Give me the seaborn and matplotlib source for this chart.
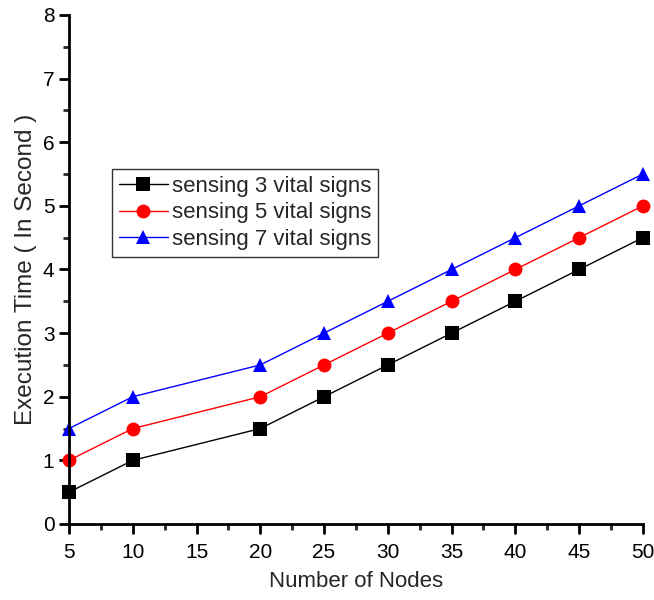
import matplotlib
matplotlib.use("Agg")
import matplotlib.pyplot as plt
import seaborn as sns
import pandas as pd
from matplotlib.ticker import MultipleLocator

nodes = [5, 10, 20, 25, 30, 35, 40, 45, 50]
s3 = [0.5, 1.0, 1.5, 2.0, 2.5, 3.0, 3.5, 4.0, 4.5]
s5 = [1.0, 1.5, 2.0, 2.5, 3.0, 3.5, 4.0, 4.5, 5.0]
s7 = [1.5, 2.0, 2.5, 3.0, 3.5, 4.0, 4.5, 5.0, 5.5]
labels = ["sensing 3 vital signs", "sensing 5 vital signs", "sensing 7 vital signs"]

df = pd.concat([
    pd.DataFrame({"nodes": nodes, "time": s, "series": lab})
    for s, lab in zip([s3, s5, s7], labels)
])

sns.set_style("ticks")
plt.rcParams["font.family"] = ["Liberation Sans", "DejaVu Sans"]

fig = plt.figure(figsize=(6.54, 6.0), dpi=100)
ax = fig.add_axes([0.1055, 0.1267, 0.8775, 0.8483])

colors = {labels[0]: "black", labels[1]: "red", labels[2]: "blue"}
markers = {labels[0]: "s", labels[1]: "o", labels[2]: "^"}
sns.lineplot(data=df, x="nodes", y="time", hue="series", style="series",
             palette=colors, markers=markers, dashes=False, markersize=10,
             linewidth=1.0, markeredgewidth=0, ax=ax, clip_on=False)

ax.set_xlim(5, 50)
ax.set_ylim(0, 8)
ax.xaxis.set_major_locator(MultipleLocator(5))
ax.xaxis.set_minor_locator(MultipleLocator(2.5))
ax.yaxis.set_major_locator(MultipleLocator(1))
ax.yaxis.set_minor_locator(MultipleLocator(0.5))
for s in ["top", "right"]:
    ax.spines[s].set_visible(False)
for s in ["left", "bottom"]:
    ax.spines[s].set_linewidth(2)
    ax.spines[s].set_color("black")
ax.tick_params(which="major", length=7, width=2, direction="out", labelsize=15, colors="black")
ax.tick_params(which="minor", length=4, width=2, direction="out")
ax.tick_params(axis="x", pad=7)
ax.set_xlabel("Number of Nodes", fontsize=16, labelpad=6)
ax.set_ylabel("Execution Time ( In Second )", fontsize=17.5, labelpad=4)

leg = ax.legend(loc="upper left", bbox_to_anchor=(0.075, 0.697), fontsize=16,
                frameon=True, fancybox=False, edgecolor="black", handlelength=2.2,
                borderpad=0.3, labelspacing=0.25, handletextpad=0.2, borderaxespad=0)
leg.get_frame().set_linewidth(1)

fig.savefig("out.png", dpi=100)
